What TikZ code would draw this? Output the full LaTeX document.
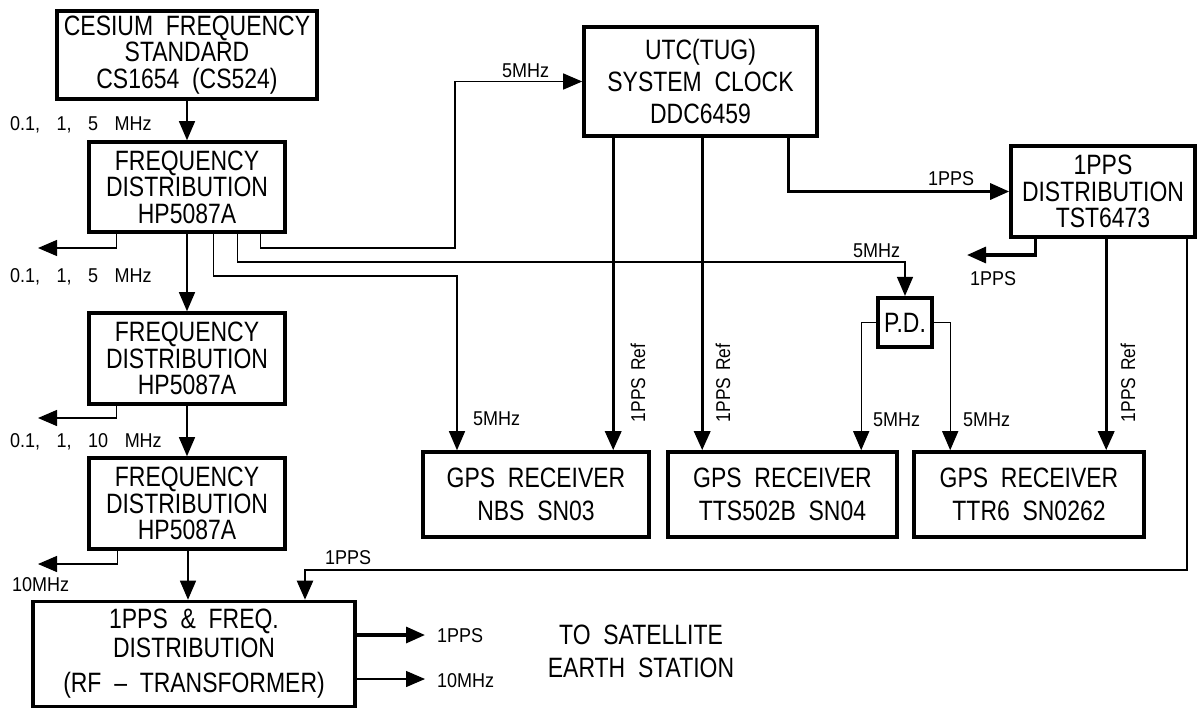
\documentclass[tikz,border=0pt]{standalone}
\usepackage{fontspec}
\setmainfont{Liberation Sans}
\newfontfamily\bxfam{Liberation Sans}[FakeStretch=0.82,WordSpace=2]
\newfontfamily\lbfam{Liberation Sans}[FakeStretch=0.9,WordSpace=3.3]
\newfontfamily\rtfam{Liberation Sans}[FakeStretch=0.87,WordSpace=1.4]
\usetikzlibrary{arrows.meta}
\begin{document}
\begin{tikzpicture}[x=1pt,y=-1pt,
  box/.style={draw, line width=3.6pt, align=center, inner sep=0pt,
    font=\bxfam\fontsize{28}{26.5}\selectfont},
  gps/.style={box, minimum height=85pt, font=\bxfam\fontsize{28}{33}\selectfont},
  lab/.style={font=\lbfam\fontsize{20}{22}\selectfont, inner sep=0pt},
  rlab/.style={font=\rtfam\fontsize{20}{22}\selectfont, inner sep=0pt, rotate=90},
  cthin/.style={line width=1.3pt},
  cmed/.style={line width=2.3pt},
  cbold/.style={line width=3.2pt},
  arr/.style={-{Triangle[length=19pt,width=16pt]}}
]
\path[fill=white] (0,0) rectangle (1198,710);

% boxes
\node[box, minimum width=260pt, minimum height=88pt] (cs) at (187,55)
  {CESIUM FREQUENCY\\STANDARD\\CS1654 (CS524)};
\node[box, minimum width=196pt, minimum height=90pt] (fd1) at (187,187)
  {FREQUENCY\\DISTRIBUTION\\HP5087A};
\node[box, minimum width=196pt, minimum height=91pt] (fd2) at (187,358.5)
  {FREQUENCY\\DISTRIBUTION\\HP5087A};
\node[box, minimum width=196pt, minimum height=91pt] (fd3) at (187,503.5)
  {FREQUENCY\\DISTRIBUTION\\HP5087A};
\node[box, minimum width=322pt, minimum height=105pt,
  font=\bxfam\fontsize{28}{29}\selectfont] (rf) at (194,654)
  {1PPS \& FREQ.\\DISTRIBUTION\\[6pt](RF \textendash\ TRANSFORMER)};
\node[box, minimum width=233pt, minimum height=109pt,
  font=\bxfam\fontsize{28}{32}\selectfont] (utc) at (700.5,81.5)
  {UTC(TUG)\\SYSTEM CLOCK\\DDC6459};
\node[box, minimum width=184pt, minimum height=91pt] (pps) at (1103,191.5)
  {1PPS\\DISTRIBUTION\\TST6473};
\node[box, minimum width=54pt, minimum height=49pt, line width=4.2pt] (pd) at (905,322.5) {P.D.};
\node[gps, minimum width=226pt] (nbs) at (536,494.5) {GPS RECEIVER\\NBS SN03};
\node[gps, minimum width=229pt] (tts) at (782.5,494.5) {GPS RECEIVER\\TTS502B SN04};
\node[gps, minimum width=230pt] (ttr) at (1029,494.5) {GPS RECEIVER\\TTR6 SN0262};

% free ends
\coordinate (o1) at (38,248);
\coordinate (o2) at (38,418);
\coordinate (o3) at (38,564);
\coordinate (o5) at (967,255);
\coordinate (t1) at (425,635);
\coordinate (t2) at (425,679);

% main chain
\draw[cthin,arr] (cs) -- (fd1);
\draw[cthin,arr] (fd1) -- (fd2);
\draw[cthin,arr] (fd2) -- (fd3);
\draw[cthin,arr] ([xshift=1pt]fd3.south) coordinate (c3) -- (c3 |- rf.north);

% left outputs
\draw[cthin,arr] ([xshift=29pt]fd1.south west) |- (o1);
\draw[cthin,arr] ([xshift=29pt]fd2.south west) |- (o2);
\draw[cthin,arr] ([xshift=30pt]fd3.south west) |- (o3);

% 5MHz distributions from fd1
\draw[cthin,arr] ([xshift=126pt]fd1.south west) |- (457,276) coordinate (b1) -- (b1 |- nbs.north);
\draw[cthin,arr] ([xshift=150pt]fd1.south west) |- (905,262) -- (pd.north);
\draw[cthin,arr] ([xshift=173pt]fd1.south west) |- (455,248) |- (utc.west);

% system clock outputs
\draw[cbold,arr] ([xshift=31pt]utc.south west) coordinate (u1) -- (u1 |- nbs.north);
\draw[cbold,arr] ([xshift=120pt]utc.south west) coordinate (u2) -- (u2 |- tts.north);
\draw[cbold,arr] ([xshift=206pt]utc.south west) |- (pps.west);

% 1PPS distribution outputs
\draw[cbold,arr] ([xshift=26pt]pps.south west) |- (o5);
\draw[cbold,arr] ([xshift=97pt]pps.south west) coordinate (p1) -- (p1 |- ttr.north);
\draw[cmed,arr] ([xshift=178pt]pps.south west) |- (305,570) coordinate (b2) -- (b2 |- rf.north);

% power divider outputs
\draw[cthin,arr] (pd.west) -| ([xshift=195pt]tts.north west);
\draw[cthin,arr] (pd.east) -| ([xshift=38pt]ttr.north west);

% outputs to satellite station
\draw[cbold,arr] (rf.east |- t1) -- (t1);
\draw[cthin,arr] (rf.east |- t2) -- (t2);

% labels
\node[lab, anchor=base west] (l1) at (10,130) {0.1, 1, 5 MHz};
\node[lab, anchor=base west] (l2) at (10,282) {0.1, 1, 5 MHz};
\node[lab, anchor=base west] (l3) at (10,447) {0.1, 1, 10 MHz};
\node[lab, anchor=base west] (l4) at (12,591) {10MHz};
\node[lab, anchor=base west] (l5) at (502,77) {5MHz};
\node[lab, anchor=base west] (l6) at (853,257) {5MHz};
\node[lab, anchor=base west] (l7) at (473,425) {5MHz};
\node[lab, anchor=base west] (l8) at (873,426) {5MHz};
\node[lab, anchor=base west] (l9) at (963,426) {5MHz};
\node[lab, anchor=base west] (l10) at (928,185) {1PPS};
\node[lab, anchor=base west] (l11) at (970,285) {1PPS};
\node[lab, anchor=base west] (l12) at (325,564) {1PPS};
\node[lab, anchor=base west] (l13) at (437,642) {1PPS};
\node[lab, anchor=base west] (l14) at (437,687) {10MHz};
\node[rlab] (r1) at (638,383) {1PPS Ref};
\node[rlab] (r2) at (723,383) {1PPS Ref};
\node[rlab] (r3) at (1128,383) {1PPS Ref};
\node[align=center, inner sep=0pt, font=\bxfam\fontsize{28}{33}\selectfont] (sat) at (641,651)
  {TO SATELLITE\\EARTH STATION};
\end{tikzpicture}
\end{document}
